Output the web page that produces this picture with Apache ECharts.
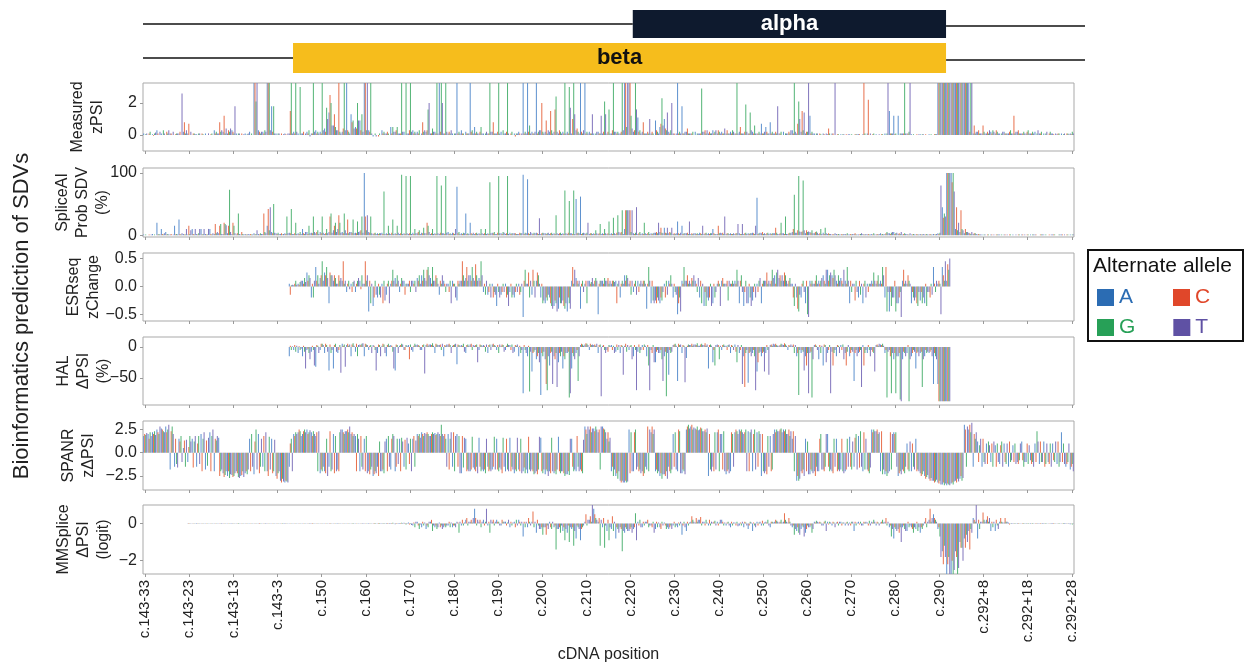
<!DOCTYPE html>
<html><head><meta charset="utf-8">
<script src="https://cdn.jsdelivr.net/npm/echarts@6/dist/echarts.min.js"></script>
<style>html,body{margin:0;padding:0;background:#fff}#c{width:1247px;height:663px}</style>
</head><body><div id="c"></div>
<script>
// ---------- categories ----------
const alleles = ['A', 'C', 'G', 'T'];
const intron5Len = 33, exonFirst = 143, exonLast = 292, intron3Len = 28;
const positions = [];
for (let i = intron5Len; i >= 1; i--) positions.push('c.143-' + i);
for (let p = exonFirst; p <= exonLast; p++) positions.push('c.' + p);
for (let i = 1; i <= intron3Len; i++) positions.push('c.292+' + i);
const tickLabels = ['c.143-33','c.143-23','c.143-13','c.143-3','c.150','c.160','c.170','c.180','c.190','c.200',
  'c.210','c.220','c.230','c.240','c.250','c.260','c.270','c.280','c.290','c.292+8','c.292+18','c.292+28'];
// isoforms (exon extents)
const isoformNames = ['alpha', 'beta'];
const isoformStart = ['c.221', 'c.144'];
const isoformEnd = ['c.291', 'c.291'];
const isoformRow = [1.5, 0.5];

// ---------- values: [A, C, G, T] per position ----------
// Measured zPSI (all positions, from c.143-33)
const zpsi = [
/*0*/[.1,0,.05,.1],[0,.1,.2,0],[.05,-.05,.1,.15],[.3,.1,0,.2],[.1,0,.3,.1],[0,.2,.1,.3],[.1,.1,0,.2],[0,.05,.1,.1],[.1,.2,0,2.6],[.2,.8,.1,.3],
/*10*/[.1,.7,0,.2],[0,.1,.1,.05],[.05,0,.1,.1],[0,.1,.05,0],[.1,0,0,.1],[0,.05,.1,0],[.3,.1,.2,.1],[.1,.8,.2,.3],[.2,1.2,.1,.4],[.1,.3,.2,.4],
/*20*/[.3,.2,.1,1.8],[.1,0,.1,.1],[0,.1,0,.05],[.1,0,.05,.1],[.2,0,.1,0],[4,4,2.1,4],[.3,.2,.1,.2],[.2,.1,.3,.2],[4,4,4,.3],[1.8,.2,1.8,.1],
/*30*/[.1,0,.1,.1],[0,.1,0,.05],[.1,.05,0,.1],[.1,1.5,4,.1],[.2,.1,4,.2],[.1,0,3,.1],[.1,.2,0,.1],[.2,.1,.3,-.1],[.1,.1,4,.2],[.3,.1,.2,.1],
/*40*/[.2,.1,4,.3],[.4,.2,1.7,1],[1.4,2.5,2,.6],[.6,1.3,.5,.3],[.3,4,.2,.1],[.2,.4,4,.3],[4,.3,.2,.1],[1.3,.8,.9,.4],[.5,.4,2,.9],[.9,.3,1.3,.2],
/*50*/[4,4,.3,4],[.3,.2,4,.1],[-.1,0,.1,-.1],[0,-.1,.1,0],[.3,.1,.2,.1],[.1,.2,.1,0],[.5,.1,.5,.2],[.2,.3,.5,.1],[.1,.1,4,.2],[.2,0,4,.1],
/*60*/[.1,.3,4,.2],[.3,.1,.2,.1],[.2,.1,.3,0],[.1,.8,.2,.3],[.2,.3,1.6,2],[.1,.1,.4,.2],[.2,.1,4,.1],[4,.2,4,2],[.1,.1,4,.2],[.1,.2,.1,.3],
/*70*/[.1,0,.1,.1],[4,.1,.2,.1],[.3,.1,.1,0],[.2,.1,.1,.1],[4,.2,.3,.1],[.5,.1,.2,.1],[.1,.2,.5,.1],[.1,0,.1,.2],[.1,.1,4,.2],[.2,.8,.1,.1],
/*80*/[.1,.2,4,.1],[.2,0,.3,.1],[.1,.2,4,.1],[0,.1,.2,0],[.1,-.1,.1,.1],[.2,.1,0,.1],[4,.1,.2,.1],[4,.2,.6,.1],[.2,.1,.1,.2],[4,.1,.2,.3],
/*90*/[.3,2,.2,.1],[.2,.9,.1,.3],[.2,1.5,.3,.1],[.2,1.6,2.4,.2],[.1,.3,.2,.1],[.2,.1,4,.1],[.2,.1,3,1.7],[.1,1,4,1.3],[.3,.4,.2,.1],[4,.2,.1,.3],
/*100*/[4,.1,.2,.1],[.2,.1,.1,1.3],[.1,0,.1,.2],[.2,.1,.1,1.2],[.1,.2,2.1,1.3],[.1,.2,1.6,.1],[.1,.3,4,.2],[.2,.1,.2,.1],[.1,.2,4,.3],[4,4,.5,4],
/*110*/[4,4,1.2,.4],[.2,.3,4,1.6],[1.1,.2,.3,.1],[.2,.8,.1,.1],[.1,.2,.1,1],[.1,.2,.1,0],[.9,.3,.2,.1],[.5,.7,2.3,.6],[1,.4,.3,1.4],[.2,.1,.3,2],
/*120*/[.1,.1,0,.1],[4,.1,.2,.1],[1.8,.1,.1,.2],[.2,.4,.1,.1],[.1,.1,.2,0],[.2,0,.1,.1],[.1,.1,2.9,.2],[.2,.3,.1,.3],[.1,.2,.1,.1],[.3,.1,.2,.3],
/*130*/[.1,.3,.2,.1],[.2,.1,.1,.4],[.1,.3,.1,.1],[.2,.1,.3,.2],[.1,.1,4,.1],[.2,.5,.1,.1],[.1,.2,1.9,.2],[.1,.1,1.4,.3],[.2,.1,.6,.1],[.1,.1,.2,.1],
/*140*/[.7,.1,.1,.2],[.5,.2,.1,.1],[.8,.1,.2,.1],[.1,.2,.1,1.8],[.1,.1,.2,0],[.2,0,.1,.1],[.1,.2,.1,.3],[.3,.1,4,.2],[.1,.7,2.1,1],[.2,1.5,.3,1.4],
/*150*/[.1,.2,.2,4],[1.2,.1,.2,.1],[.1,0,.1,.1],[0,.1,.05,0],[.1,.05,0,.1],[.05,.4,.1,0],[.1,.1,0,4],[0,.05,.05,0],[.05,0,.05,.05],[0,.05,0,.05],
/*160*/[.05,0,.05,0],[0,.05,.05,.05],[.05,.05,0,0],[.05,4,.1,0],[.1,2.2,0,.1],[0,.05,.1,0],[.05,0,0,.05],[0,.05,.05,0],[.1,0,.1,4],[1.5,.1,.1,.1],
/*170*/[1.2,.05,.1,0],[1.2,0,.1,.1],[.1,.1,4,.1],[.1,.1,.2,4],[.05,0,.05,0],[0,.05,0,.05],[.05,0,.05,.05],[0,.05,0,0],[.05,0,.05,0],[0,.05,.05,.05],
/*180*/[4,4,4,4],[4,4,4,4],[4,4,4,4],[4,4,4,4],[4,4,4,4],[4,4,4,4],[4,4,4,4],[4,.2,4,4],[.1,.6,.1,.2],[.2,.3,.1,.1],
/*190*/[.1,.6,.2,.1],[.1,.2,.1,.3],[.2,.1,.3,.2],[.1,.3,.2,.1],[.1,0,.1,.2],[.2,.1,.1,.1],[.1,.2,.3,.1],[.1,1.2,.1,.2],[.2,.3,.1,.1],[.1,.1,.2,.1],
/*200*/[.1,.2,.3,.1],[.1,.1,.2,.1],[.2,0,.1,.3],[.1,.1,.2,0],[.1,0,.1,.2],[0,.1,.2,.1],[.1,.05,0,.1],[.05,.1,.1,0],[.1,0,.05,.1],[0,.1,.1,.05],
/*210*/[.1,.05,.2,.1]
];
// SpliceAI probability SDV (%), all positions
const spliceai = [
/*0*/[1,0,1,0],[0,1,0,1],[2,0,1,0],[20,1,2,1],[10,2,1,3],[5,1,2,1],[1,2,0,1],[15,1,2,1],[25,2,1,3],[2,1,1,10],
/*10*/[1,15,2,8],[10,2,1,10],[2,1,3,10],[10,1,2,10],[2,1,1,10],[10,2,1,3],[2,18,3,5],[3,15,18,2],[2,20,18,16],[3,15,73,5],
/*20*/[2,20,15,3],[1,3,35,2],[1,5,2,1],[2,1,1,2],[1,2,1,1],[3,1,2,8],[2,1,3,2],[2,35,5,3],[15,42,8,45],[5,3,50,4],
/*30*/[3,2,4,2],[2,3,1,2],[3,2,30,3],[4,3,42,2],[2,3,20,2],[3,2,5,2],[10,3,2,5],[5,2,15,3],[4,3,30,5],[3,5,8,2],
/*40*/[5,3,30,4],[2,3,10,3],[5,30,35,4],[8,15,20,5],[10,32,20,4],[5,3,35,8],[3,25,3,5],[5,4,25,3],[4,3,22,5],[6,8,30,4],
/*50*/[100,30,8,32],[5,4,30,3],[2,3,4,2],[3,2,3,3],[4,2,70,2],[3,2,15,3],[2,4,25,2],[3,2,15,4],[2,3,97,2],[3,2,95,3],
/*60*/[2,3,95,2],[4,2,10,3],[3,5,8,2],[4,3,12,3],[3,20,15,5],[2,3,10,2],[3,2,95,3],[2,4,80,3],[3,2,95,4],[5,2,3,2],
/*70*/[4,3,2,10],[78,3,5,2],[3,2,4,3],[35,2,3,2],[20,3,2,4],[2,3,4,2],[3,2,10,3],[2,3,10,2],[3,2,85,3],[4,3,5,2],
/*80*/[2,4,95,3],[3,2,5,4],[2,3,95,2],[4,2,3,3],[3,3,2,2],[2,4,3,3],[97,2,4,3],[90,3,2,5],[3,2,4,3],[4,3,2,27],
/*90*/[2,3,4,3],[3,2,3,4],[2,3,4,2],[3,2,32,3],[2,3,4,2],[3,2,72,3],[2,4,55,3],[3,2,72,2],[58,3,4,3],[62,2,3,4],
/*100*/[3,2,4,20],[2,3,3,2],[3,2,8,3],[2,3,18,2],[3,2,10,3],[2,3,22,2],[3,2,28,3],[2,4,32,5],[3,5,40,2],[10,40,40,40],
/*110*/[40,40,5,40],[3,2,4,45],[2,3,5,2],[3,2,20,3],[2,3,5,2],[3,2,3,4],[4,5,3,20],[5,12,4,3],[12,4,3,12],[3,5,4,12],
/*120*/[2,3,2,3],[22,3,2,4],[15,2,3,3],[3,4,2,22],[2,3,2,3],[3,2,3,2],[4,3,2,15],[2,3,4,2],[3,2,3,3],[10,3,2,2],
/*130*/[2,15,3,4],[3,4,2,30],[2,3,3,2],[3,2,2,3],[2,3,3,18],[3,2,2,18],[2,3,4,2],[3,2,3,3],[4,3,2,15],[60,2,3,4],
/*140*/[3,5,2,3],[2,3,4,2],[3,2,3,3],[3,12,4,2],[2,3,20,3],[3,2,30,2],[2,3,4,3],[5,10,65,4],[4,8,95,6],[5,6,88,8],
/*150*/[3,8,5,6],[5,4,8,3],[3,5,6,4],[2,3,10,2],[4,2,12,3],[2,3,2,2],[1,2,1,3],[2,1,2,1],[1,2,1,2],[2,1,3,1],
/*160*/[1,2,1,2],[2,3,1,1],[1,1,2,3],[2,1,1,2],[1,2,1,1],[2,1,3,1],[1,2,1,2],[3,1,2,1],[2,3,5,3],[3,2,4,5],
/*170*/[5,2,3,4],[2,3,2,5],[1,2,3,2],[2,1,1,3],[1,1,2,1],[1,2,1,1],[2,1,1,2],[1,1,2,1],[1,2,1,1],[2,1,1,2],
/*180*/[3,2,4,80],[45,28,35,30],[100,100,100,100],[100,85,100,70],[10,45,8,20],[5,40,10,8],[3,10,5,5],[4,3,2,5],[2,3,3,2],[1,2,1,1],
/*190*/[1,0,1,1],[0,1,1,0],[1,1,0,1],[0,1,1,1],[1,0,1,0],[1,1,0,1],[0,1,1,0],[1,0,0,1],[0,1,1,0],[1,1,0,1],
/*200*/[0,1,1,0],[1,0,1,1],[1,1,0,0],[0,1,1,1],[1,0,1,0],[0,1,0,1],[1,1,1,0],[0,0,1,1],[1,1,0,1],[0,1,1,0],
/*210*/[1,0,1,1]
];
// ESRseq zChange, exon only (from c.143)
const esrseqStart = 'c.143';
const esrseq = [
/*33*/[.05,-.15,.02,.03],[.02,.05,.1,.03],[.05,.03,.08,.1],[.1,.05,.15,.08],[.25,.1,.2,.15],[-.2,.05,-.2,.1],[.35,.1,.2,.05],
/*40*/[.15,.2,.45,.1],[.25,.2,.35,.15],[-.3,.25,.2,.2],[.1,.2,.15,.05],[.05,.2,.1,.15],[.1,.45,.05,.1],[-.1,.05,.1,-.05],[.05,-.1,.08,.1],[-.1,.05,.1,.15],[.1,-.05,.2,.05],
/*50*/[.05,.45,.1,.2],[-.45,.1,-.3,.05],[-.35,-.2,.1,-.15],[-.2,.05,-.15,-.2],[.05,-.3,.1,-.25],[-.15,.05,.1,-.3],[.05,.1,.3,.1],[.15,.05,.2,.1],[-.1,.05,.15,.1],[.1,-.15,.05,.05],
/*60*/[.05,.1,-.1,.1],[.1,.05,.1,-.1],[.15,.1,.2,.05],[.2,.1,.3,.15],[.1,.3,.35,.2],[.15,.05,.35,.1],[.1,.2,.15,.05],[-.15,.1,.05,.2],[.1,.05,-.1,.05],[.05,-.1,.1,-.3],
/*70*/[.1,.05,.05,-.2],[-.25,.1,.05,.1],[.1,.45,.2,.1],[.15,.35,.1,.2],[.2,.1,.35,.15],[.1,.4,.2,.1],[.15,.1,.45,.2],[-.1,.05,-.15,.1],[-.15,-.1,.05,-.2],[.05,-.2,-.1,-.15],
/*80*/[-.35,.05,-.1,-.2],[-.15,-.1,.05,-.1],[.05,-.2,-.15,-.35],[-.1,.05,-.2,-.15],[-.2,-.1,.05,-.1],[.05,-.15,-.1,.05],[-.55,.1,.3,.05],[.05,.25,-.2,.1],[-.15,.3,.1,-.2],[.1,.25,.2,.05],
/*90*/[-.2,.05,-.3,-.25],[-.3,-.2,-.25,-.15],[-.2,-.3,-.35,-.4],[-.35,-.25,-.3,-.45],[-.4,-.2,-.3,-.3],[-.25,-.35,-.4,-.3],[-.45,-.2,-.3,-.4],[.1,.35,.05,.3],[.15,.1,.05,.1],[-.4,.05,.1,-.1],
/*100*/[.05,.1,-.3,.1],[.1,.05,.08,.15],[.05,.1,.15,.1],[-.5,.05,.1,.1],[.1,.05,.15,.1],[.1,.15,.05,.1],[.05,.1,.1,.08],[.1,-.3,.05,.1],[-.2,.05,.1,.05],[.2,.1,.2,.15],
/*110*/[.05,.1,-.15,.1],[-.1,.05,.1,-.15],[.1,-.1,.05,.1],[.05,.1,.1,.05],[-.4,.05,.35,.1],[-.3,.1,-.25,-.3],[-.25,-.3,-.2,-.25],[-.3,-.2,-.25,-.1],[.05,-.2,.1,-.15],[.1,.05,.2,.05],
/*120*/[-.2,.05,-.1,-.15],[-.5,-.3,-.2,-.45],[.1,.05,.35,.1],[.1,.2,.05,.1],[.05,.15,.1,.2],[.1,.05,-.1,.15],[-.2,.1,-.3,.05],[-.35,-.1,-.35,-.2],[-.25,-.2,.05,-.35],[-.3,.05,-.2,-.1],
/*130*/[.05,.1,.05,-.35],[.1,.15,.05,.05],[.05,.1,-.25,.1],[.05,.05,.1,.05],[.1,.05,.3,.1],[-.3,.1,.2,-.1],[-.35,-.1,.1,-.3],[-.3,.05,-.2,-.35],[-.25,-.1,.05,-.2],[.05,-.1,.1,.15],
/*140*/[-.3,.05,.1,.1],[.1,.25,.05,.1],[.05,.1,.3,.15],[.2,.05,.25,.3],[.15,.2,.1,.2],[.1,.25,.2,.1],[.05,.1,.15,.05],[.05,-.2,-.35,.05],[-.2,-.4,-.45,-.15],[-.2,.05,.1,-.1],
/*150*/[-.3,.1,-.5,-.55],[.1,.05,.1,.05],[.05,.1,.2,.05],[.1,.05,.1,.15],[.2,.1,.05,.3],[.3,.1,.2,.25],[.2,.15,.3,.2],[.1,.05,.2,.1],[.15,.1,.05,.3],[.1,.05,.35,.1],
/*160*/[-.3,.1,-.1,.05],[.05,-.25,.1,-.1],[-.2,.1,-.15,.05],[-.3,.05,.1,-.2],[.05,-.1,.05,.05],[.1,.05,.25,.1],[.05,.1,.2,.05],[.1,.05,.35,.2],[-.2,.35,-.45,-.1],[-.45,-.1,-.35,-.2],
/*170*/[-.2,.1,-.45,-.3],[-.3,-.2,-.1,-.55],[.1,.3,.05,.1],[.05,.2,.1,.05],[-.3,-.1,-.2,-.25],[-.2,-.3,-.35,-.1],[-.25,-.1,-.3,-.2],[-.3,.05,-.35,-.1],[-.1,-.2,.05,-.15],[.35,.05,-.1,.1],
/*180*/[.05,.1,.05,-.5],[.35,.2,.1,.45],[.1,.4,.3,.5]
];
// HAL ΔPSI (%), exon only (from c.143)
const halStart = 'c.143';
const hal = [
/*33*/[-15,2,-5,1],[-5,3,-8,2],[-10,1,-5,-3],[-15,2,-8,-35],[-5,-3,-10,-20],[-8,2,-5,-30],[-32,3,2,-10],
/*40*/[-5,5,5,3],[-10,5,3,-8],[-38,4,-10,-5],[-35,3,5,-8],[-10,-5,3,-42],[5,2,4,-32],[3,5,2,4],[-15,4,6,2],[-8,5,-15,3],[4,3,5,6],
/*50*/[-15,5,4,3],[-5,2,3,-10],[3,2,-5,-38],[-10,4,3,-15],[2,5,4,-10],[-15,3,5,2],[3,2,-8,-35],[-38,4,3,-10],[2,3,5,4],[-5,-5,3,2],
/*60*/[3,-20,4,-5],[-8,2,5,3],[4,3,2,-5],[-5,3,4,-43],[3,5,2,4],[4,3,6,2],[-10,5,4,3],[3,4,-5,5],[-15,3,2,4],[4,5,3,-10],
/*70*/[2,3,4,5],[-28,4,3,2],[3,2,5,-8],[-10,3,4,2],[4,5,-5,3],[2,3,4,-25],[-5,4,3,2],[3,2,-8,4],[-10,3,4,-5],[4,5,3,2],
/*80*/[-5,3,-10,4],[2,4,3,-8],[-5,2,5,3],[3,-5,4,-10],[-8,3,2,4],[-15,2,-10,-5],[-75,3,-5,-10],[-15,2,-72,-8],[-40,-10,-8,-5],[-20,-15,-10,-25],
/*90*/[-78,-10,-15,-8],[-20,-60,-70,-15],[-30,-10,-8,-60],[-15,-20,-10,-65],[-25,-10,-15,-8],[-35,-15,-20,-10],[-10,-8,-82,-75],[-35,-10,-15,-20],[-10,-5,-55,-15],[3,5,4,2],
/*100*/[4,6,5,3],[-5,5,3,4],[3,4,2,5],[-10,3,4,-80],[2,3,-5,-10],[-5,-8,3,2],[3,-5,2,-10],[-8,4,-5,3],[-10,3,2,-45],[2,5,-8,3],
/*110*/[-5,2,3,-20],[-15,3,-5,-70],[-8,4,-10,-5],[3,-5,4,2],[-15,3,-30,-70],[-5,-10,3,-25],[-25,-8,-5,-10],[-10,-5,-20,-55],[-15,-8,-80,-10],[-45,-5,-10,-8],
/*120*/[3,4,5,2],[-55,5,3,4],[-10,3,2,-57],[-18,2,4,3],[3,5,2,4],[4,3,6,2],[2,4,5,3],[3,6,2,4],[-35,3,4,2],[-25,-5,-30,3],
/*130*/[4,3,-20,2],[-5,3,4,2],[2,-5,3,4],[-10,3,2,-5],[4,-8,-25,3],[-10,-5,3,-60],[-15,-65,-10,-5],[-58,-10,-8,-15],[-10,-5,-15,-70],[-40,-25,-10,-8],
/*140*/[-15,-10,-8,-40],[-10,3,-5,-45],[3,4,2,5],[4,5,3,2],[2,3,5,4],[3,6,4,2],[-5,3,2,4],[2,4,-10,3],[-15,-10,-78,-5],[-10,-5,-8,-38],
/*150*/[-15,-30,-10,-75],[-10,-8,-82,-20],[3,4,2,-5],[-20,3,-10,2],[-30,4,3,-25],[-10,-5,3,-75],[-8,-30,-10,-5],[-15,3,2,-10],[3,-5,4,-20],[-10,-30,-8,3],
/*160*/[-15,-10,-5,-8],[-55,-10,-5,-15],[-10,-8,-5,-65],[3,-30,-10,-5],[-10,3,-5,-15],[-5,-8,-10,-40],[3,4,2,5],[4,3,5,2],[-10,-5,-82,-8],[-5,-15,-75,-10],
/*170*/[-20,-10,-75,-15],[-15,-10,-85,-88],[-20,-8,-10,-15],[-10,3,-88,-20],[-15,-10,-5,-8],[-35,-10,-8,-15],[-10,-8,-65,-20],[-15,-5,-10,-8],[-10,-8,-5,-15],[-60,-10,-15,-20],
/*180*/[-60,-88,-88,-88],[-88,-88,-88,-88],[-88,-88,-88,-88]
];
// SPANR zΔPSI, all positions
const spanr = [
/*0*/[1.8,2,1.9,2.1],[2,1.5,2.2,1.8],[2.2,2,2.3,1.9],[2.5,2.2,2,2.8],[2.6,2.5,2.3,2.2],[2.8,2.2,2.5,3],[-1.8,2.3,2.8,2],[-1.5,1.5,-1.2,-1.6],[1.5,1.2,1.8,-1],[.5,1.3,-1.5,1.4],
/*10*/[-1,.6,1.8,1.2],[1.5,-1.6,1.2,1.8],[-1.5,1,1.8,-1.2],[2,-2,1.5,2.2],[-1.8,1.3,-1.4,1.6],[2.2,-2,1.8,2.5],[-2,1.5,1.3,1.8],[1.6,-2.5,-2,-1.8],[-2.2,-2.6,-2.4,-2],[-2.5,-2,-2.7,-2.3],
/*20*/[-2.4,-2.6,-2.5,-2.2],[-2,-2.2,-2.6,-2.7],[-2.5,-2.4,-2,-2.6],[-2.2,-2,-2.3,-1.8],[1.5,-2,2,-1.5],[-2.3,1.2,2.5,-1.8],[2,-2.2,-1.5,1.5],[-1.5,1.8,-2,2.2],[-2,-2.5,1.7,-1.8],[1.5,-2.2,-2,1.4],
/*30*/[-2.5,-2.8,-2.2,-2],[-3,-3.2,-2.8,-3.1],[-3.2,-3,-3.1,-3.2],[-1.5,1,1.5,-2],[2,1.8,2.2,2],[2.2,2.5,2.3,1.8],[2,2.3,2.5,2.2],[2.5,2,2.2,2.4],[2.2,1.8,2.3,2],[1.8,2.2,-2,2.3],
/*40*/[-2.2,-1.8,-2,-1.5],[-2,-2.2,1.5,-2.5],[-1.5,2.3,-2,-1.8],[2,-2.2,1.8,-2],[-1.8,-2,2.2,2.5],[2.5,2.2,2,2.3],[2.3,2.5,2.2,2.8],[2,2.2,1.8,2],[1.8,-2,2,1.5],[-2,1.8,-1.5,-1.8],
/*50*/[1.5,-2,1.8,-2.2],[-2,-2.3,-1.8,-1.5],[-2.5,-2.3,-2,-2.2],[-1.5,-2.5,1.2,-2],[-2,-1.8,-2.2,1.2],[1.5,-2,1.8,-1.5],[-1.8,1.5,2,1.8],[-2,-1.5,1.5,-1.2],[1.5,-2,1.6,1.2],[-1.5,1.4,-1.8,1.6],
/*60*/[1,-1.2,1.5,-2],[1.5,1.8,-1.5,1.3],[2,1.8,2,1.6],[2.2,2,1.8,2.1],[2,2.2,2,1.8],[1.8,2,2.2,2],[2.1,1.9,2,2.2],[2,1.8,3,2],[1.8,2,1.5,-1.5],[2,-1.8,1.5,2.2],
/*70*/[-1.5,2.2,-2,1.8],[2,-1.5,1.8,-2.2],[-2.2,1.8,-1.6,1.6],[1.5,-2,-1.8,-2],[-2,-1.8,1.7,-1.6],[-1.8,-2,-1.5,-2.2],[1.6,-1.5,-2,-1.8],[-2,-1.8,-2.2,1.5],[-1.5,-2,-1.8,-2],[-1.8,-1.5,1.7,-1.8],
/*80*/[1.5,-1.8,-2,-1.6],[-1.8,-2.2,1.6,-1.5],[-2,1.5,-1.8,-2],[1.6,-2,-1.5,-1.8],[-2.2,-1.8,-2,1.6],[-1.8,-2,1.5,-2.2],[-2,-1.6,-2.2,-1.8],[-2.2,1.7,-1.8,-2],[-1.8,-2,-2.3,-2.2],[-2,-2.3,-1.8,1.7],
/*90*/[1.6,-2,-2.2,-1.8],[-2.3,-1.8,-2,-2.5],[-2,-2.2,1.6,-2],[-2.2,-2,-2.3,-1.8],[1.7,-2,-2.2,-2],[-2,-2.2,-2.5,-2.3],[-2.3,-2,-2.4,1.5],[1.5,-1.5,-2,-1.8],[-2,1.8,-1.5,-2],[-1.8,-2,-2.2,1.4],
/*100*/[2.8,2.5,2,2.8],[2.5,2.8,2.2,2.6],[2.6,2.3,2.8,2.5],[2.2,2.5,-1.8,2.8],[2.8,2.6,2.5,2.2],[1.5,2.2,1.2,1.6],[-2,-1.5,-2.5,-1.8],[-2.5,-2.2,-2.8,-2],[-3,-3.2,-3,-3.2],[-3.2,-3,-3.2,-3.1],
/*110*/[2.5,-2.2,2.2,-2],[-2,2.2,2.5,-1.8],[-1.5,-2,-1.8,-2.2],[-2,-2.5,-2.2,-1.5],[-1.8,2.8,-2,2.5],[2.2,2.8,2,2.5],[-2,-1.8,-2.2,-2],[-2.5,-2.2,-2.8,-2.3],[-2.3,-2.5,-2,-2.8],[-1.5,-2,-2.2,-1.8],
/*120*/[2,-1.5,2.2,-1.8],[-2,2.5,2.3,-2.2],[-2.2,-1.8,-2,-2.3],[2.5,2.8,3,2.6],[2.8,3,2.5,2.7],[2.6,2.5,2.8,2.4],[2.5,2.7,2.6,2.3],[2.3,2.5,2.2,2.6],[-2.5,2,-1.8,-2],[-1.5,-2,2.2,-1.8],
/*130*/[2.2,2.5,-2,2],[2,-1.8,2.3,-2],[-2.3,-2,-1.8,-2.2],[-2,2.2,2,-1.5],[2.2,2.5,2.3,2],[2.5,2.3,2.5,2.2],[2,2.2,2.5,-2],[2.3,-2,2.2,2.5],[-2,2,2.5,-1.8],[2.2,-1.5,2.3,2],
/*140*/[-2.5,2,-2,-2.2],[-2,-2.3,1.8,-1.5],[1.8,-2,-1.8,2],[2.5,2.2,2.5,2.3],[2.3,2.5,2.6,2.2],[2.5,2.3,2.5,2],[2,2.5,1.8,2.3],[1.5,2.3,-2,1.8],[-3,-2.5,-3,-2.8],[-2,-2.2,-1.8,-2.5],
/*150*/[1.5,-2,1.2,-2.3],[-2.3,-1.8,-2,-2.2],[-2,-2.5,-1.5,-2],[-2,1.5,2,-1.8],[-1.8,-2,-1.5,2],[2,-1.5,-2,-1.8],[-2,-2.2,1.5,-1.5],[1.5,-2,-1.8,-2],[-1.8,1.5,-2,-2.2],[-2,-1.8,1.5,-1.5],
/*160*/[1.7,-1.5,-1.8,1.2],[-1.5,1.6,2,-1.8],[1.8,-1.6,2.3,-1.5],[-2,2.2,-1.8,1.5],[-1.8,-2,-2.2,-1.6],[2.5,2.2,2.5,2.3],[2.3,2.5,2,2.2],[-2,2.3,-2.3,-1.8],[-2.3,-2,-2.5,-2.2],[-2,2.2,-1.8,2],
/*170*/[2.2,2,2.2,-1.5],[-2.5,-2.2,-2,-2.3],[-1.8,-2,-2.2,-1.5],[1,-1.8,-2,1.2],[-2,1,-1.5,-1.8],[1.5,-2,-1.8,-2],[-2.2,-2.5,-2.3,-2],[-2.5,-2.8,-2.6,-2.4],[-2.8,-3,-2.7,-3],[-3,-3.2,-3.1,-2.9],
/*180*/[-3.2,-3.3,-3,-3.4],[-3.4,-3.2,-3.5,-3.3],[-3.5,-3.3,-3.4,-3.5],[-3.3,-3.2,-3.4,-3.1],[-3,-3.2,-2.8,-3.1],[-2.8,-2.5,-3,-2.7],[3,2.5,-1.5,2.8],[2.5,3,2.2,3.2],[-1.5,2,1.5,2.2],[1.2,-1,.8,1.5],
/*190*/[-1.5,1.5,-1,-1.2],[1,-1.2,1.2,.8],[-1,1,-1.5,1.2],[.8,-1.5,1,-1],[-1.2,.8,1.2,-1.5],[1,-1,-1.2,1],[-1.5,1.2,-1,-.8],[.8,-1,1,-1.2],[-1,-1.2,-.8,1],[1.2,-.8,-1.5,-1],
/*200*/[-1,1,-1.2,.8],[-.8,-1.2,-1,-1.5],[1,-1,2.3,1.2],[-1.2,1.2,-1,-1],[1.2,-1.5,-1.2,1],[-1,-1.2,1,-1.5],[1,-.8,-1,1.2],[-1.2,1.2,-1.5,-1],[2.2,-1,1,-1.2],[-1.5,-1.2,-1,1],
/*210*/[-1.8,-1.5,-1.2,-2]
];
// MMSplice ΔPSI (logit), from c.143-23
const mmspliceStart = 'c.143-23';
const mmsplice = [
/*10*/[.02,-.02,.01,.02],[.01,.02,-.01,.01],[-.02,.01,.02,-.01],[.02,.01,.01,.02],[.01,-.01,.02,.01],[.02,.02,-.01,.01],[-.01,.01,.02,.02],[.01,.02,.01,-.02],[.02,-.01,.01,.01],[.01,.01,.02,-.01],
/*20*/[-.02,.02,.01,.01],[.01,.01,-.02,.02],[.02,-.01,.01,.02],[.01,.02,.02,-.01],[-.01,.01,.01,.02],[.02,.01,-.01,.01],[.01,-.02,.02,.01],[.02,.01,.01,-.02],[-.01,.02,.01,.01],[.01,.01,-.01,.02],
/*30*/[.02,-.01,.02,.01],[.01,.02,-.02,.01],[-.02,.01,.01,.02],[.01,.02,.01,-.01],[.02,.01,-.01,.02],[-.01,.02,.02,.01],[.01,-.01,.01,.02],[.02,.01,.02,-.02],[.01,-.02,.01,.01],[.02,.01,-.01,.02],
/*40*/[-.01,.02,.01,.01],[.01,.01,.02,-.01],[.02,-.02,.01,.02],[.01,.02,-.01,.01],[-.02,.01,.02,.02],[.02,.01,.01,-.01],[.01,-.01,.02,.01],[.02,.02,-.02,.01],[-.01,.01,.01,.02],[.01,.02,.01,-.02],
/*50*/[.02,-.01,.02,.01],[-.03,.02,.01,.02],[.02,.03,-.02,.01],[.01,-.02,.03,.02],[.03,.01,-.02,.02],[-.02,.03,.02,-.03],[.03,-.02,.04,.02],[-.04,.03,.02,.03],[.03,-.03,.04,-.02],[.04,.03,-.05,.03],
/*60*/[.05,-.05,.03,-.08],[-.1,.05,-.2,.1],[.1,-.1,-.3,-.05],[-.2,.1,-.1,.05],[-.3,-.1,-.2,.1],[.1,.2,-.4,-.1],[-.2,-.1,-.3,-.2],[.05,-.2,-.1,-.3],[-.2,-.1,-.2,-.1],[-.1,.1,-.2,.05],
/*70*/[-.2,-.1,-.1,-.2],[.1,.05,-.5,.1],[-.1,.2,-.1,.05],[.2,.3,-.1,.1],[.1,.2,.05,.3],[.8,.3,-.1,.2],[.1,.2,-.2,.1],[.2,-.1,.1,.8],[-.1,.1,-.5,.2],[.1,.2,-.1,.1],
/*80*/[.2,.1,.1,-.1],[-.1,.2,.1,.1],[.1,-.1,.05,.2],[-.2,.1,-.1,.05],[.1,-.2,.2,-.1],[.2,.1,-.1,.1],[-.7,.1,-.2,.1],[-.2,.3,.1,-.1],[.1,.65,-.2,.1],[-.5,.2,-.1,-.3],
/*90*/[-.3,-.2,-.6,-.2],[-.2,-.6,-.1,-.3],[.1,-.2,-.3,.1],[-.2,-.1,-1.4,-.3],[-.3,-.2,-.5,-.1],[-.4,-.2,-.9,-.3],[-.5,-.1,-1,-.2],[-.3,-.2,-1.2,-.4],[-.8,-.1,-.2,-.3],[-.9,-.3,-.2,-.1],
/*100*/[.1,.5,-.1,.2],[.2,.4,.1,1],[.8,.5,.3,.2],[.1,.3,-1.2,.2],[-.2,.3,-1.3,-.1],[-.4,.2,-.9,-.2],[-.3,.4,-.4,.1],[-.8,-.2,-.3,-.5],[-.2,-.3,-1.5,-.4],[-.5,-.2,-.3,-.4],
/*110*/[-.4,-.3,-.2,-.5],[-.3,-.2,.55,-.9],[.1,-.1,.2,-.2],[-.2,.1,-.1,.1],[.1,.2,-.2,-.1],[-.1,-.2,.1,-.5],[-.3,.1,-.2,.05],[-.2,-.3,.1,-.1],[.05,-.1,-.3,-.2],[-.3,-.2,-.1,-.3],
/*120*/[-.1,.1,-.2,-.1],[-.2,.05,-.1,.1],[-.6,-.1,.1,-.2],[-.4,.1,-.1,.05],[.1,.4,.2,.1],[.05,.3,.1,.2],[.2,.35,-.1,.1],[.1,-.1,.2,.05],[-.1,.2,-.1,.1],[.05,.1,.15,-.1],
/*130*/[.1,-.1,.05,.2],[.2,.1,-.1,.05],[-.1,.05,.1,-.1],[-.2,.1,-.1,.05],[.05,-.1,.1,-.15],[-.1,.05,-.1,.1],[-.2,.1,.05,-.1],[-.3,-.1,.1,.05],[-.4,.05,-.1,-.2],[.1,-.1,.05,.1],
/*140*/[-.1,.15,-.1,.05],[.1,.05,.2,-.1],[-.2,.1,.1,.05],[.1,.2,.15,.1],[.05,.1,.2,.05],[.1,.55,.2,.1],[.05,.3,.1,-.1],[-.2,-.1,-.6,-.3],[-.4,-.2,-.5,-.6],[-.3,-.1,-.2,-.7],
/*150*/[-.5,-.3,-.1,-.2],[-.2,-.1,-.5,-.3],[.1,.05,.15,.1],[.05,.1,.05,-.1],[-.1,.1,.15,-.4],[.1,-.05,.1,.05],[-.1,.1,.05,-.2],[.05,.1,-.1,.1],[.1,-.1,.05,.05],[-.1,.05,.1,-.1],
/*160*/[.05,-.1,.1,.1],[-.4,.1,-.1,.05],[.1,-.05,.1,-.1],[-.1,.1,.05,.1],[.05,-.1,.15,-.1],[.1,.05,.2,.1],[-.1,.1,.05,-.1],[.05,.1,.2,.05],[.1,.3,-.1,.1],[-.2,-.1,-.7,-.3],
/*170*/[-.8,-.2,-.3,-.4],[-.3,-.5,-.2,-1],[-.2,-.1,-.3,-.4],[-.4,.1,-.2,-.1],[-.2,-.3,-.5,-.2],[-.3,.1,-.4,-.2],[-.5,-.2,-.3,-.1],[.1,.3,-.2,.1],[.2,.8,.1,.3],[.5,.3,.2,.1],
/*180*/[-.3,-.2,-.7,-1.8],[-1.5,-2.2,-1.2,-1.8],[-3,-2.2,-1.8,-3],[-3,-2,-3,-2.5],[-1.5,-1.8,-3,-2.4],[-1,-1.3,-1.3,-2],[-.8,-1.3,-.6,-1],[-.4,-1.4,-.3,-.5],[.3,.2,.1,1],[-.8,.2,-.3,.1],
/*190*/[.1,.6,.2,.1],[.2,.4,.1,.3],[-.4,.1,-.2,.1],[-.4,.2,-.1,-.3],[.1,.3,.1,.05],[.05,.3,.1,.1],[.05,-.05,.02,.03],[.03,.02,-.03,.02],[-.02,.03,.02,.01],[.02,-.02,.03,.02],
/*200*/[.03,.02,-.02,.01],[-.02,.01,.03,.02],[.02,.03,.01,-.02],[.01,-.02,.02,.03],[.03,.01,-.03,.02],[.02,.02,.01,-.02],[-.02,.03,.02,.01],[.02,-.01,.03,.02],[.01,.02,-.02,.03],[.03,.01,.02,-.03],
/*210*/[-.04,.02,-.05,.02]
];

// ---------- styling / layout ----------
const FONT = 'Liberation Sans, Arial, Helvetica, sans-serif';
const legendColors = ['#2b6cb3', '#e0472a', '#27a057', '#5f51a4'];
const barColors = ['#5f92cf', '#e8724f', '#55b577', '#8276bd'];
const panels = [
  {title: 'Measured\nzPSI', rows: zpsi, start: 'c.143-33', min: -1, max: 3.25, ticks: [0, 2], dec: 0, gap: 35},
  {title: 'SpliceAI\nProb SDV\n(%)', rows: spliceai, start: 'c.143-33', min: -3, max: 108, ticks: [0, 100], dec: 0, gap: 30},
  {title: 'ESRseq\nzChange', rows: esrseq, start: esrseqStart, min: -0.62, max: 0.6, ticks: [-0.5, 0, 0.5], dec: 1, gap: 39},
  {title: 'HAL\nΔPSI\n(%)', rows: hal, start: halStart, min: -94, max: 16, ticks: [-50, 0], dec: 0, gap: 29},
  {title: 'SPANR\nzΔPSI', rows: spanr, start: 'c.143-33', min: -4, max: 3.4, ticks: [-2.5, 0, 2.5], dec: 1, gap: 44},
  {title: 'MMSplice\nΔPSI\n(logit)', rows: mmsplice, start: mmspliceStart, min: -2.72, max: 1.0, ticks: [-2, 0], dec: 0, gap: 29}
];
const gridLeft = 143, gridRight = 173;
const panelTops = [83, 168, 253, 337, 421, 505];
const panelHeights = [68, 69, 68, 68, 69, 69];

const tickSet = new Set(tickLabels);
const tickFn = (idx, val) => tickSet.has(val);

const grids = [{left: gridLeft, right: gridRight, top: 7, height: 68, show: false, outerBoundsMode: 'none', containLabel: false}];
const xAxes = [{type: 'category', gridIndex: 0, data: positions, show: false, boundaryGap: true}];
const yAxes = [{type: 'value', gridIndex: 0, min: 0, max: 2, show: false}];
const series = [];

panels.forEach((p, pi) => {
  const last = pi === panels.length - 1;
  grids.push({left: gridLeft, right: gridRight, top: panelTops[pi], height: panelHeights[pi],
    show: true, borderColor: '#a9a9a9', borderWidth: 1, backgroundColor: '#fff',
    outerBoundsMode: 'none', containLabel: false});
  xAxes.push({
    type: 'category', gridIndex: pi + 1, data: positions, boundaryGap: true, position: 'bottom',
    axisLine: {show: false, onZero: false},
    axisTick: {show: true, alignWithLabel: true, interval: tickFn, length: 3, inside: false, lineStyle: {color: '#9a9a9a'}},
    axisLabel: {show: last, interval: tickFn, rotate: 90, fontSize: 15, color: '#222', margin: 6, fontFamily: FONT},
    splitLine: {show: false},
    name: last ? 'cDNA position' : '', nameLocation: 'middle', nameGap: 73,
    nameTextStyle: {fontSize: 16, color: '#222', fontFamily: FONT}
  });
  yAxes.push({
    type: 'value', gridIndex: pi + 1, min: p.min, max: p.max,
    axisLine: {show: false, onZero: false},
    axisTick: {show: true, customValues: p.ticks, length: 3, lineStyle: {color: '#9a9a9a'}},
    axisLabel: {customValues: p.ticks, fontSize: 16, color: '#222', margin: 6, fontFamily: FONT,
      formatter: v => (v < 0 ? '\u2212' : '') + Math.abs(v).toFixed(p.dec)},
    splitLine: {show: false},
    name: p.title, nameLocation: 'middle', nameRotate: 90, nameGap: p.gap, nameMoveOverlap: false,
    nameTextStyle: {fontSize: 16, color: '#222', fontFamily: FONT, lineHeight: 20}
  });
  const offset = positions.indexOf(p.start);
  alleles.forEach((a, k) => {
    series.push({
      type: 'bar', name: a, xAxisIndex: pi + 1, yAxisIndex: pi + 1,
      data: positions.map((_, i) => { const r = p.rows[i - offset]; return r ? r[k] : null; }),
      barGap: '0%', barCategoryGap: '8%',
      itemStyle: {color: barColors[k]},
      silent: true
    });
  });
});

// gene model (isoforms)
series.push({
  type: 'custom', xAxisIndex: 0, yAxisIndex: 0, silent: true, clip: false,
  data: isoformNames.map((n, i) => [positions.indexOf(isoformStart[i]), positions.indexOf(isoformEnd[i]), isoformRow[i]]),
  encode: {x: [0, 1], y: 2},
  renderItem: (params, api) => {
    const i = params.dataIndex;
    const s = api.coord([api.value(0), api.value(2)]);
    const e = api.coord([api.value(1), api.value(2)]);
    const bw = api.size([1, 0])[0];
    const x0 = s[0] - bw / 2, x1 = e[0] + bw / 2, y = s[1];
    const cs = params.coordSys;
    const h = i === 0 ? 28 : 30;
    const fill = i === 0 ? '#0e1a2e' : '#f6bd1c';
    const tc = i === 0 ? '#fff' : '#111';
    return {type: 'group', children: [
      {type: 'line', shape: {x1: cs.x, y1: y, x2: x0, y2: y}, style: {stroke: '#111', lineWidth: 1.5}},
      {type: 'line', shape: {x1: x1, y1: y + 2, x2: cs.x + cs.width + 11, y2: y + 2}, style: {stroke: '#111', lineWidth: 1.5}},
      {type: 'rect', shape: {x: x0, y: y - h / 2, width: x1 - x0, height: h}, style: {fill: fill}},
      {type: 'text', x: (x0 + x1) / 2, y: y, style: {text: isoformNames[i], fill: tc,
        font: 'bold 22px ' + FONT, align: 'center', verticalAlign: 'middle'}}
    ]};
  }
});

const legendItem = k => ({name: alleles[k], itemStyle: {color: legendColors[k]}, textStyle: {color: legendColors[k]}});
const legendBase = {left: 1097, itemWidth: 17, itemHeight: 17, icon: 'rect', selectedMode: false,
  textStyle: {fontSize: 21, fontFamily: FONT}, padding: 0};

const option = {
  animation: false,
  backgroundColor: '#fff',
  grid: grids, xAxis: xAxes, yAxis: yAxes, series: series,
  legend: [
    Object.assign({}, legendBase, {top: 287, itemGap: 40, data: [legendItem(0), legendItem(1)]}),
    Object.assign({}, legendBase, {top: 317, itemGap: 38, data: [legendItem(2), legendItem(3)]})
  ],
  graphic: [
    {type: 'rect', shape: {x: 1088, y: 250, width: 155, height: 91}, style: {fill: 'none', stroke: '#111', lineWidth: 2}},
    {type: 'text', x: 1093, y: 256, style: {text: 'Alternate allele', font: '21px ' + FONT, fill: '#111'}},
    {type: 'text', x: 22, y: 316, rotation: Math.PI / 2,
      style: {text: 'Bioinformatics prediction of SDVs', font: '22px ' + FONT, fill: '#222', align: 'center', verticalAlign: 'middle'}}
  ]
};
const chart = echarts.init(document.getElementById('c'), null, {renderer: 'canvas'});
chart.setOption(option);
</script></body></html>
